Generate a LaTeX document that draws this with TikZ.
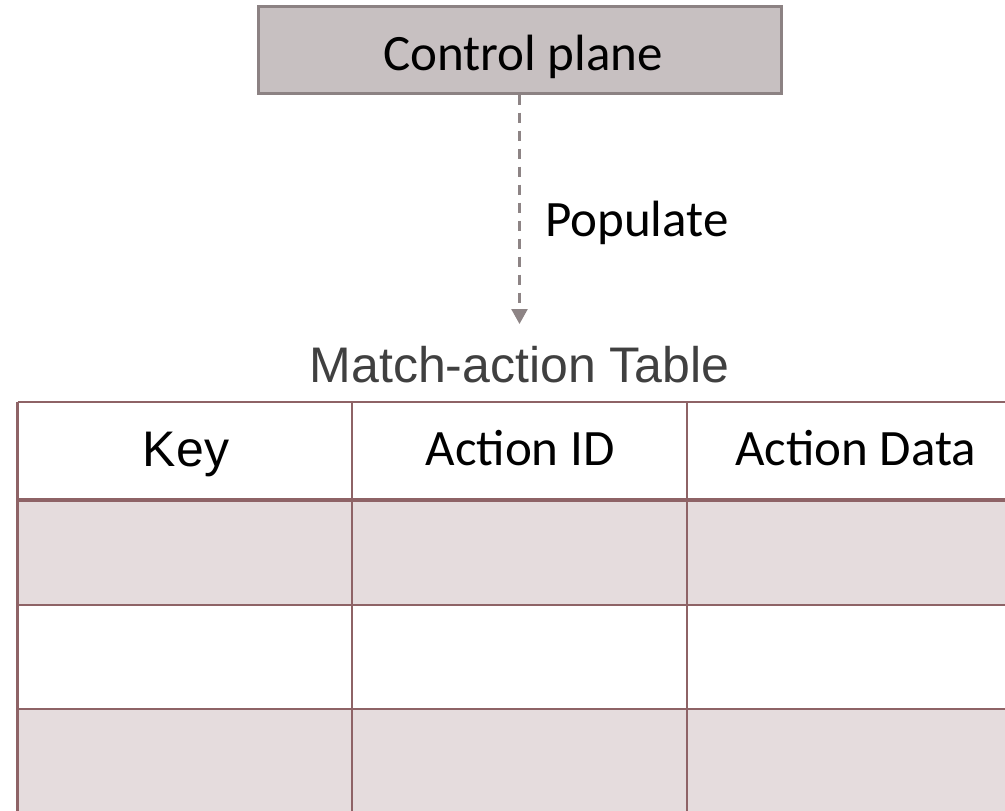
\documentclass[tikz,border=0pt]{standalone}
\usepackage{fontspec}
\setmainfont{Carlito}
\newfontfamily\arialf{Liberation Sans}
\usetikzlibrary{arrows.meta}
\definecolor{boxfill}{RGB}{199,192,193}
\definecolor{boxline}{RGB}{140,130,131}
\definecolor{dashcol}{RGB}{141,132,133}
\definecolor{tabline}{RGB}{142,99,102}
\definecolor{rowfill}{RGB}{229,220,221}
\definecolor{titlecol}{RGB}{64,64,64}
\tikzset{
  cpbox/.style={draw=boxline, line width=3pt, fill=boxfill, minimum width=523pt, minimum height=87pt, inner sep=0pt},
  bigtxt/.style={font=\fontsize{51}{60}\selectfont, inner sep=0pt},
  arialtxt/.style={font=\arialf\fontsize{50}{60}\selectfont, inner sep=0pt},
  tline/.style={draw=tabline, line width=2.5pt},
  hline/.style={draw=tabline, line width=4pt},
  popline/.style={draw=dashcol, line width=2.5pt, dash pattern=on 10pt off 8pt, -{Triangle[width=16pt,length=15pt]}},
}
\begin{document}
\begin{tikzpicture}[x=1pt,y=-1pt]
\useasboundingbox (0,0) rectangle (1005,811);
\begin{scope}
\clip (0,0) rectangle (1005,811);
% rows
\fill[white] (17.5,402) rectangle (1024,500);
\fill[rowfill] (17.5,500) rectangle (1024,605);
\fill[white] (17.5,605) rectangle (1024,709);
\fill[rowfill] (17.5,709) rectangle (1024,820);
% grid
\draw[tline] (17.5,402) -- (1024,402);
\draw[tline] (17.5,605) -- (1024,605);
\draw[tline] (17.5,709) -- (1024,709);
\draw[tline] (17.5,402) -- (17.5,820);
\draw[tline] (352,402) -- (352,820);
\draw[tline] (687,402) -- (687,820);
\draw[tline] (1024,402) -- (1024,820);
\draw[hline] (17.5,500) -- (1024,500);
\end{scope}
% header texts
\node[arialtxt, anchor=base, text=black] (key) at (186,466) {Key};
\node[bigtxt, anchor=base] (aid) at (520,465) {Action ID};
\node[bigtxt, anchor=base] (adata) at (855.5,465) {Action Data};
% title
\node[arialtxt, anchor=base, text=titlecol] (title) at (519.5,382) {Match-action Table};
% control plane
\node[cpbox] (cp) at (519.5,49.5) {};
\node[bigtxt, anchor=base] (cptxt) at (523,70) {Control plane};
% arrow
\coordinate (tip) at (519.5,324);
\draw[popline] (cp.south) -- (tip);
\node[bigtxt, anchor=base west] (pop) at (545,236) {Populate};
\end{tikzpicture}
\end{document}
